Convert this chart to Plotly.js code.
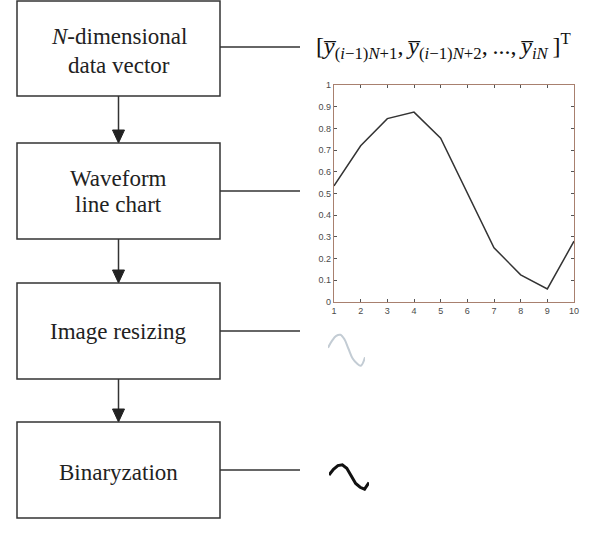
<!DOCTYPE html>
<html>
<head>
<meta charset="utf-8">
<script src="https://cdn.plot.ly/plotly-3.0.1.min.js"></script>
<style>html,body{margin:0;padding:0;background:#fff;}#chart{width:592px;height:538px;}</style>
</head>
<body>
<div id="chart"></div>
<script>
// Data
const xIndex = [1, 2, 3, 4, 5, 6, 7, 8, 9, 10];
const waveValues = [0.535, 0.72, 0.845, 0.875, 0.755, 0.50, 0.25, 0.125, 0.06, 0.28];
const xTickLabels = ['1', '2', '3', '4', '5', '6', '7', '8', '9', '10'];
const yTickValues = [0, 0.1, 0.2, 0.3, 0.4, 0.5, 0.6, 0.7, 0.8, 0.9, 1];
const yTickLabels = ['0', '0.1', '0.2', '0.3', '0.4', '0.5', '0.6', '0.7', '0.8', '0.9', '1'];
const stepLabels = [
  ['<i>N</i>-dimensional', 'data vector'],
  ['Waveform', 'line chart'],
  ['Image resizing'],
  ['Binaryzation']
];
const vectorLabel = '[<i>y\u0305</i><sub>(<i>i</i>\u22121)<i>N</i>+1</sub>,\u2009<i>y\u0305</i><sub>(<i>i</i>\u22121)<i>N</i>+2</sub>,\u2009...,\u2009<i>y\u0305</i><sub><i>iN</i></sub>\u2009]<sup>T</sup>';

// Layout helpers (pixel -> paper)
const W = 592, H = 538;
const px = x => x / W;
const py = y => 1 - y / H;

const boxes = [
  {top: 1, bottom: 96, lines: [37, 65]},
  {top: 143, bottom: 239, lines: [178, 204]},
  {top: 283, bottom: 379, lines: [331]},
  {top: 422, bottom: 518, lines: [472]}
];
const boxL = 17, boxR = 220, boxC = 118.5;
const connY = [47, 191, 331, 470];

const shapes = [];
const annotations = [];
const serif = 'Liberation Serif, Times New Roman, serif';

boxes.forEach((b, i) => {
  shapes.push({type: 'rect', xref: 'paper', yref: 'paper',
    x0: px(boxL), x1: px(boxR), y0: py(b.bottom), y1: py(b.top),
    line: {color: '#333', width: 1.5}, fillcolor: 'rgba(0,0,0,0)'});
  shapes.push({type: 'line', xref: 'paper', yref: 'paper',
    x0: px(boxR), x1: px(300), y0: py(connY[i]), y1: py(connY[i]),
    line: {color: '#333', width: 1.5}});
  stepLabels[i].forEach((t, j) => {
    annotations.push({xref: 'paper', yref: 'paper', x: px(boxC), y: py(b.lines[j]),
      text: t, showarrow: false, xanchor: 'center', yanchor: 'middle',
      font: {family: serif, size: 23, color: '#222'}});
  });
  if (i < boxes.length - 1) {
    const nb = boxes[i + 1];
    shapes.push({type: 'line', xref: 'paper', yref: 'paper',
      x0: px(boxC), x1: px(boxC), y0: py(b.bottom), y1: py(nb.top - 12),
      line: {color: '#333', width: 1.5}});
    shapes.push({type: 'path', xref: 'paper', yref: 'paper',
      path: 'M ' + px(boxC - 6) + ' ' + py(nb.top - 13) + ' L ' + px(boxC + 6) + ' ' + py(nb.top - 13) +
            ' L ' + px(boxC) + ' ' + py(nb.top) + ' Z',
      fillcolor: '#222', line: {color: '#222', width: 1}});
  }
});

annotations.push({xref: 'paper', yref: 'paper', x: px(314), y: py(46),
  text: vectorLabel, showarrow: false, xanchor: 'left', yanchor: 'middle',
  font: {family: serif, size: 24, color: '#111'}});

const frameColor = '#a8806f';
const tickFont = {family: 'Liberation Sans, Arial, sans-serif', size: 9, color: '#4a4a4a'};

const traces = [
  {x: xIndex, y: waveValues, type: 'scatter', mode: 'lines', xaxis: 'x', yaxis: 'y',
   line: {color: '#333', width: 1.5}, hoverinfo: 'skip'},
  {x: xIndex, y: waveValues, type: 'scatter', mode: 'lines', xaxis: 'x2', yaxis: 'y2',
   line: {color: '#c3ccd4', width: 2, shape: 'spline'}, hoverinfo: 'skip'},
  {x: xIndex, y: waveValues, type: 'scatter', mode: 'lines', xaxis: 'x3', yaxis: 'y3',
   line: {color: '#111', width: 3}, hoverinfo: 'skip'}
];

const hidden = {visible: false, fixedrange: true};

const layout = {
  width: W, height: H,
  margin: {l: 0, r: 0, t: 0, b: 0},
  paper_bgcolor: '#fff', plot_bgcolor: 'rgba(0,0,0,0)',
  showlegend: false,
  xaxis: {domain: [px(334), px(574)], range: [1, 10], tickvals: xIndex, ticktext: xTickLabels,
    ticks: 'inside', ticklen: 3, tickcolor: '#555', showline: true, linecolor: frameColor, linewidth: 1.2,
    mirror: 'ticks', showgrid: false, zeroline: false, tickfont: tickFont, anchor: 'y'},
  yaxis: {domain: [py(302), py(85)], range: [0, 1], tickvals: yTickValues, ticktext: yTickLabels,
    ticks: 'inside', ticklen: 3, tickcolor: '#555', showline: true, linecolor: frameColor, linewidth: 1.2,
    mirror: 'ticks', showgrid: false, zeroline: false, tickfont: tickFont, anchor: 'x'},
  xaxis2: Object.assign({domain: [px(328), px(365)], range: [1, 10], anchor: 'y2'}, hidden),
  yaxis2: Object.assign({domain: [py(368), py(330)], range: [0, 1], anchor: 'x2'}, hidden),
  xaxis3: Object.assign({domain: [px(329), px(369)], range: [1, 10], anchor: 'y3'}, hidden),
  yaxis3: Object.assign({domain: [py(491), py(461)], range: [0, 1], anchor: 'x3'}, hidden),
  shapes: shapes,
  annotations: annotations
};

Plotly.newPlot('chart', traces, layout, {staticPlot: true, displayModeBar: false});
</script>
</body>
</html>
